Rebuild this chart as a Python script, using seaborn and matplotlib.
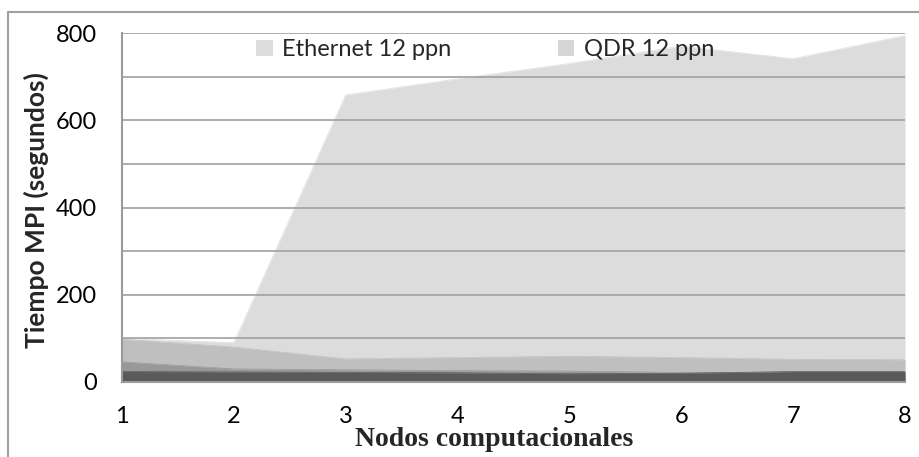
import numpy as np
import pandas as pd
import matplotlib
matplotlib.use("Agg")
import matplotlib.pyplot as plt
import seaborn as sns
from matplotlib.patches import Patch
from matplotlib.lines import Line2D
from matplotlib.ticker import MultipleLocator

# ---- data ----
nodes = [1, 2, 3, 4, 5, 6, 7, 8]
ethernet_12 = [100, 90, 658, 695, 730, 770, 741, 794]
qdr_12 = [98, 80, 53, 56, 59, 56, 52, 51]
series_c = [46, 30, 28, 26, 25, 22, 20, 20]
series_d = [24, 23, 22, 21, 19, 20, 24, 24]
x_ticks = ["1", "2", "3", "4", "5", "6", "7", "8"]
y_ticks = [0, 200, 400, 600, 800]

sns.set_theme(style="white")
plt.rcParams["font.family"] = ["Lato", "DejaVu Sans"]

df = pd.DataFrame({"nodes": nodes, "Ethernet 12 ppn": ethernet_12,
                   "QDR 12 ppn": qdr_12, "c": series_c, "d": series_d})

fig = plt.figure(figsize=(9.2, 4.57), dpi=100)
ax = fig.add_axes([122/920, 1-382/457, (905-122)/920, (382-33)/457])

layers = [("Ethernet 12 ppn", "#dcdcdc"), ("QDR 12 ppn", "#bfbfbf"),
          ("c", "#989898"), ("d", "#5a5a5a")]
for i, (col, color) in enumerate(layers):
    z = 1.0 + 0.2 * i
    sns.lineplot(data=df, x="nodes", y=col, ax=ax, color=color, linewidth=0.5, zorder=z + 0.1)
    ax.fill_between(df["nodes"], 0, df[col], color=color, linewidth=0, zorder=z)

ax.set_xlim(1, 8)
ax.set_ylim(0, 800)
ax.set_xticks(nodes)
ax.set_xticklabels(x_ticks)
ax.set_yticks(y_ticks)
ax.yaxis.set_minor_locator(MultipleLocator(100))
ax.set_axisbelow(False)
ax.grid(True, which="both", axis="y", color="#a0a0a0", linewidth=1.2)
ax.tick_params(axis="both", which="both", length=0, labelsize=17, colors="black")
ax.tick_params(axis="x", pad=17)
ax.tick_params(axis="y", pad=18)

for s in ["right", "top"]:
    ax.spines[s].set_visible(False)
for s in ["left", "bottom"]:
    ax.spines[s].set_color("#9a9a9a")
    ax.spines[s].set_linewidth(1.5)
    ax.spines[s].set_zorder(12)

ax.set_ylabel("Tiempo MPI (segundos)", fontsize=19, fontweight="bold")
ax.yaxis.set_label_coords(-0.093, 0.493)
ax.set_xlabel("Nodos computacionales", fontsize=20, fontweight="bold",
              family=["Liberation Serif", "DejaVu Serif"])
ax.xaxis.set_label_coords(0.475, -0.128)

handles = [Patch(facecolor="#dcdcdc", edgecolor="none"),
           Patch(facecolor="#d6d6d6", edgecolor="none")]
leg = ax.legend(handles, ["Ethernet 12 ppn", "QDR 12 ppn"], ncol=2, frameon=False,
                loc="center", bbox_to_anchor=(0.464, 0.952), fontsize=17,
                handlelength=0.7, handleheight=0.7, handletextpad=0.4,
                columnspacing=4.5)
leg.set_zorder(20)

# outer chart frame (top and left lines)
fig.add_artist(Line2D([8/920, 1], [1-12/457, 1-12/457], transform=fig.transFigure,
                      color="#a0a0a0", linewidth=1.5))
fig.add_artist(Line2D([8/920, 8/920], [0, 1-12/457], transform=fig.transFigure,
                      color="#a0a0a0", linewidth=1.5))

fig.savefig("out.png", dpi=100)
